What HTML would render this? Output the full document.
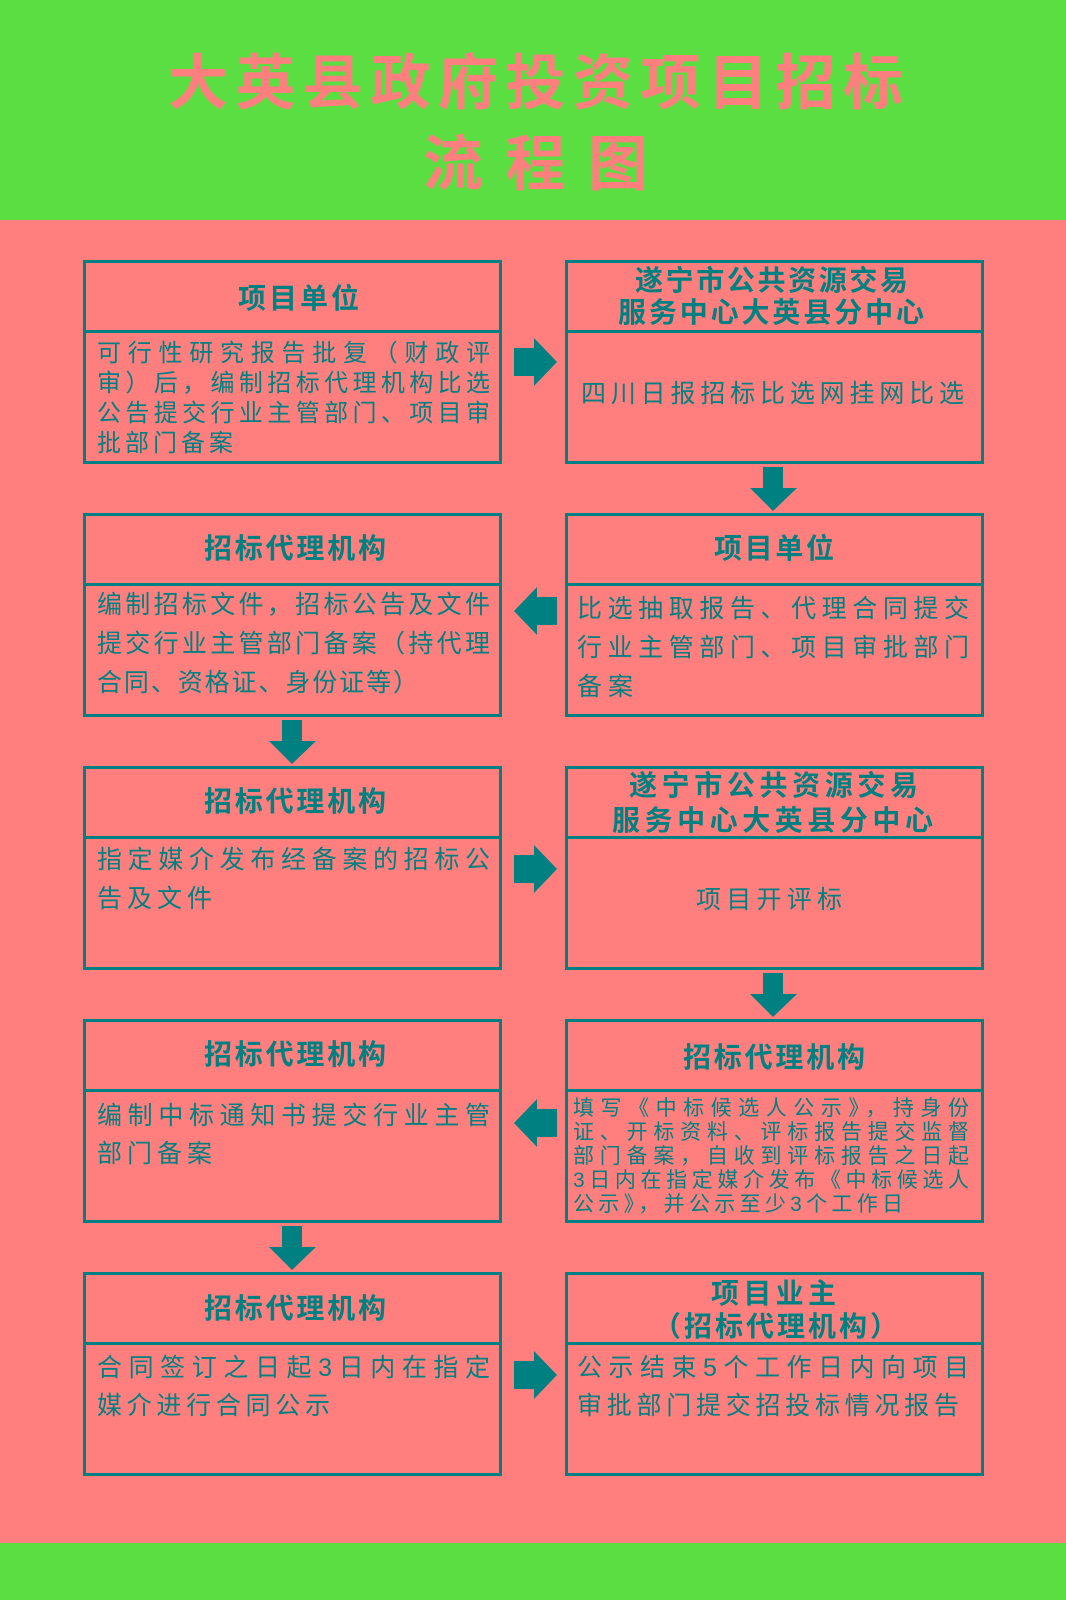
<!DOCTYPE html>
<html><head><meta charset="utf-8"><style>
*{margin:0;padding:0;box-sizing:border-box}
body{width:1066px;height:1600px;position:relative;background:#ff7f7f;font-family:"Liberation Sans","Noto Sans CJK SC",sans-serif;color:#008080;overflow:hidden}
.g{position:absolute;left:0;width:1066px;background:#5ade42}
.box{position:absolute;width:419px;height:204px;border:3px solid #008080}
.hl{position:absolute;left:0;right:0;top:67px;height:3px;background:#008080}
.l{position:absolute;height:30px;line-height:30px;font-size:25px;text-align:justify;text-align-last:justify;text-justify:inter-character}
.h{position:absolute;height:34px;line-height:34px;font-size:28px;font-weight:bold;text-align:justify;text-align-last:justify;text-justify:inter-character}
.s{font-size:21px;height:24px;line-height:24px}
.t{position:absolute;height:70px;line-height:70px;font-size:60px;font-weight:bold;color:#ff7f7f;text-align:justify;text-align-last:justify;text-justify:inter-character}
</style></head><body>
<div class="g" style="top:0;height:220px"></div>
<div class="g" style="top:1543px;height:57px"></div>
<div class="t" style="left:168px;width:735px;top:49px">大英县政府投资项目招标</div>
<div class="t" style="left:423px;width:225px;top:130px">流程图</div>

<div class="box" style="left:83px;top:260px"><div class="hl"></div></div>
<div class="box" style="left:565px;top:260px"><div class="hl"></div></div>
<div class="box" style="left:83px;top:513px"><div class="hl"></div></div>
<div class="box" style="left:565px;top:513px"><div class="hl"></div></div>
<div class="box" style="left:83px;top:766px"><div class="hl"></div></div>
<div class="box" style="left:565px;top:766px"><div class="hl"></div></div>
<div class="box" style="left:83px;top:1019px"><div class="hl"></div></div>
<div class="box" style="left:565px;top:1019px"><div class="hl"></div></div>
<div class="box" style="left:83px;top:1272px"><div class="hl"></div></div>
<div class="box" style="left:565px;top:1272px"><div class="hl"></div></div>

<div class="h" style="left:238px;width:121px;top:282px">项目单位</div>
<div class="h" style="left:635px;width:273px;top:264px">遂宁市公共资源交易</div>
<div class="h" style="left:618px;width:306px;top:296px">服务中心大英县分中心</div>
<div class="h" style="left:204px;width:182px;top:532px">招标代理机构</div>
<div class="h" style="left:714px;width:120px;top:532px">项目单位</div>
<div class="h" style="left:204px;width:182px;top:785px">招标代理机构</div>
<div class="h" style="left:629px;width:289px;top:769px">遂宁市公共资源交易</div>
<div class="h" style="left:612px;width:321px;top:804px">服务中心大英县分中心</div>
<div class="h" style="left:204px;width:182px;top:1038px">招标代理机构</div>
<div class="h" style="left:683px;width:182px;top:1041px">招标代理机构</div>
<div class="h" style="left:204px;width:182px;top:1292px">招标代理机构</div>
<div class="h" style="left:711px;width:125px;top:1277px">项目业主</div>
<div class="h" style="left:653px;width:245px;top:1310px">（招标代理机构）</div>

<div class="l" style="font-size:24px;left:97px;width:393px;top:339px">可行性研究报告批复（财政评</div>
<div class="l" style="font-size:24px;left:97px;width:393px;top:369px">审）后，编制招标代理机构比选</div>
<div class="l" style="font-size:24px;left:97px;width:393px;top:399px">公告提交行业主管部门、项目审</div>
<div class="l" style="font-size:24px;left:97px;width:136px;top:429px">批部门备案</div>

<div class="l" style="left:581px;width:383px;top:379px">四川日报招标比选网挂网比选</div>

<div class="l" style="left:97px;width:393px;top:590px">编制招标文件，招标公告及文件</div>
<div class="l" style="left:97px;width:393px;top:629px">提交行业主管部门备案（持代理</div>
<div class="l" style="left:97px;width:321px;top:668px">合同、资格证、身份证等）</div>

<div class="l" style="left:577px;width:392px;top:594px">比选抽取报告、代理合同提交</div>
<div class="l" style="left:577px;width:392px;top:633px">行业主管部门、项目审批部门</div>
<div class="l" style="left:577px;width:56px;top:672px">备案</div>

<div class="l" style="left:97px;width:393px;top:845px">指定媒介发布经备案的招标公</div>
<div class="l" style="left:97px;width:115px;top:884px">告及文件</div>

<div class="l" style="left:696px;width:146px;top:885px">项目开评标</div>

<div class="l" style="left:97px;width:393px;top:1101px">编制中标通知书提交行业主管</div>
<div class="l" style="left:97px;width:115px;top:1139px">部门备案</div>

<div class="l s" style="left:573px;width:396px;top:1097px">填写《中标候选人公示》，持身份</div>
<div class="l s" style="left:573px;width:396px;top:1121px">证、开标资料、评标报告提交监督</div>
<div class="l s" style="left:573px;width:396px;top:1145px">部门备案，自收到评标报告之日起</div>
<div class="l s" style="left:573px;width:396px;top:1169px">3日内在指定媒介发布《中标候选人</div>
<div class="l s" style="left:573px;width:330px;top:1193px">公示》，并公示至少3个工作日</div>

<div class="l" style="left:97px;width:393px;top:1353px">合同签订之日起3日内在指定</div>
<div class="l" style="left:97px;width:233px;top:1391px">媒介进行合同公示</div>

<div class="l" style="left:577px;width:392px;top:1353px">公示结束5个工作日内向项目</div>
<div class="l" style="left:577px;width:382px;top:1391px">审批部门提交招投标情况报告</div>

<svg style="position:absolute;left:0;top:0" width="1066" height="1600">
<g fill="#008080">
<polygon points="514,348 534,348 534,338 557,362 534,386 534,376 514,376"/>
<polygon points="514,855 534,855 534,845 557,869 534,893 534,883 514,883"/>
<polygon points="514,1361 534,1361 534,1351 557,1375 534,1399 534,1389 514,1389"/>
<polygon points="557,597 537,597 537,587 514,611 537,635 537,625 557,625"/>
<polygon points="557,1109 537,1109 537,1099 514,1123 537,1147 537,1137 557,1137"/>
<polygon points="763,467 783,467 783,488 797,488 773,511 750,488 763,488"/>
<polygon points="763,973 783,973 783,994 797,994 773,1017 750,994 763,994"/>
<polygon points="282,720 302,720 302,741 316,741 292,764 269,741 282,741"/>
<polygon points="282,1226 302,1226 302,1247 316,1247 292,1270 269,1247 282,1247"/>
</g></svg>
</body></html>
